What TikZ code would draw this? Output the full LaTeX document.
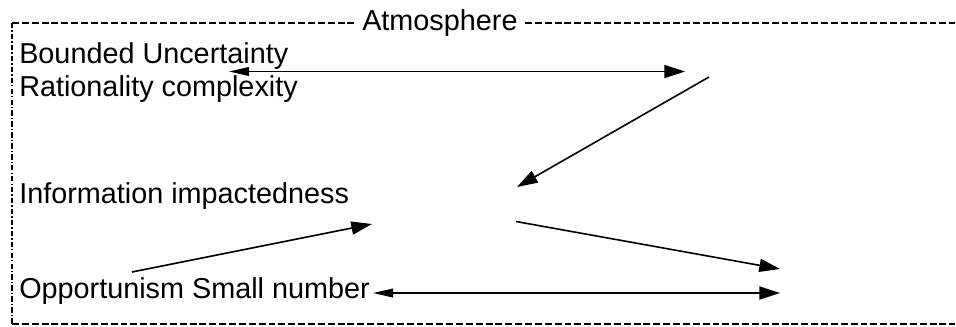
\documentclass[tikz,border=0pt]{standalone}
\usepackage{fontspec}
\setmainfont{Liberation Sans}
\usetikzlibrary{arrows.meta}
\begin{document}
\begin{tikzpicture}[x=0.75pt,y=-0.75pt,
  lbl/.style={anchor=base west,inner sep=0pt,font=\fontsize{21.6pt}{23pt}\selectfont},
  border/.style={line width=1.3pt,dash pattern=on 5.2pt off 2.2pt},
  sideline/.style={line width=1pt,dash pattern=on 4pt off 1.6pt on 1pt off 1.6pt},
  conn/.style={line width=1.2pt},
  bighead/.style={-{Triangle[length=15.5pt,width=9.8pt]}},
  dblhead/.style={{Triangle[length=15pt,width=6.5pt]}-{Triangle[length=15.5pt,width=9.8pt]}}]
\useasboundingbox (0,0) rectangle (956,326);
% frame
\coordinate (tl) at (12,23);
\coordinate (tm1) at (354,23);
\coordinate (tm2) at (525,23);
\coordinate (tr) at (955,23);
\coordinate (bl) at (12,324);
\coordinate (br) at (955,324);
\draw[border] (tl) -- (tm1);
\draw[border] (tm2) -- (tr);
\draw[border] (bl) -- (br);
\draw[sideline] (tl) -- (bl);
\node[lbl] (atm) at (362,30) {Atmosphere};
% labels
\node[lbl] (bu) at (19,63) {Bounded Uncertainty};
\node[lbl] (rc) at (19,96) {Rationality complexity};
\node[lbl] (ii) at (19,203) {Information impactedness};
\node[lbl] (os) at (19,298) {Opportunism Small number};
% connector end points
\coordinate (a1l) at (229,71.5);
\coordinate (a1r) at (685,71.5);
\coordinate (a2s) at (709,77);
\coordinate (a2e) at (517,187);
\coordinate (a3s) at (516,221.5);
\coordinate (a3e) at (780,269);
\coordinate (a4s) at (132,272);
\coordinate (a4e) at (372,224);
\coordinate (a5l) at (373,293);
\coordinate (a5r) at (780,293);
% connectors
\draw[conn,dblhead] (a1l) -- (a1r);
\draw[conn,bighead] (a2s) -- (a2e);
\draw[conn,bighead] (a3s) -- (a3e);
\draw[conn,bighead] (a4s) -- (a4e);
\draw[conn,dblhead] (a5l) -- (a5r);
\end{tikzpicture}
\end{document}
